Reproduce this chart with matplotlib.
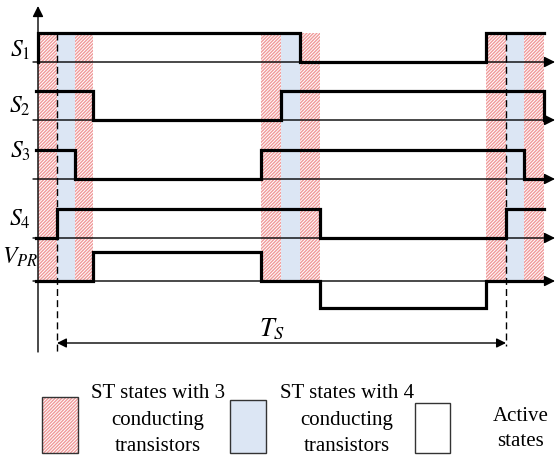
import numpy as np
import matplotlib
matplotlib.use("Agg")
import matplotlib.pyplot as plt
from matplotlib.patches import Rectangle

plt.rcParams['font.family'] = ['Liberation Serif', 'DejaVu Serif']
plt.rcParams['mathtext.fontset'] = 'stix'
plt.rcParams['hatch.linewidth'] = 1.0

# switching instants (time units, 0 = vertical axis)
t_start = -2
t_end = 506
ts_left, ts_right = 19, 468

# shoot-through intervals
red_spans = [(0, 19), (37, 55), (223, 243), (262, 282), (448, 468), (486, 506)]
blue_spans = [(19, 37), (243, 262), (468, 486)]

# gate signals: switching times and levels
names = ['$S_\\mathit{1}$', '$S_\\mathit{2}$', '$S_\\mathit{3}$', '$S_\\mathit{4}$', '$V_{PR}$']
sig_t = [
    [0, 0, 262, 448, 506],
    [t_start, 55, 243, 506, 506],
    [t_start, 37, 223, 486, 506],
    [t_start, 19, 282, 468, 506],
    [t_start, 55, 223, 282, 448, 506],
]
sig_v = [
    [0, 1, 0, 1, 1],
    [1, 0, 1, 0, 0],
    [1, 0, 1, 0, 0],
    [0, 1, 0, 1, 1],
    [0, 1, 0, -1, 0, 0],
]
baselines = [62, 120, 179, 238, 281]
label_y = [50, 106, 151, 219, 257]
amp = 29
neg_amp = 27

legend_labels = ['ST states with 3\nconducting\ntransistors',
                 'ST states with 4\nconducting\ntransistors',
                 'Active\nstates']

red = '#f09a9a'
blue = '#dce6f4'
hatch = '/' * 10

fig = plt.figure(figsize=(5.58, 4.68), dpi=100)
ax = fig.add_axes([0, 0, 1, 1])
ax.set_xlim(-38, 520)
ax.set_ylim(468, 0)
ax.axis('off')

top, bot = 33, 281
for a, b in red_spans:
    ax.add_patch(Rectangle((a, top), b - a, bot - top, facecolor='white',
                           edgecolor=red, hatch=hatch, lw=0, zorder=1))
for a, b in blue_spans:
    ax.add_patch(Rectangle((a, top), b - a, bot - top, facecolor=blue,
                           edgecolor='none', lw=0, zorder=1))

# time axes with arrows
for yb in baselines:
    ax.annotate('', xy=(517, yb), xytext=(-5, yb),
                arrowprops=dict(arrowstyle='-|>', lw=1.0, color='k',
                                mutation_scale=16, shrinkA=0, shrinkB=0), zorder=3)
ax.annotate('', xy=(0, 6), xytext=(0, 352),
            arrowprops=dict(arrowstyle='-|>', lw=1.0, color='k',
                            mutation_scale=16, shrinkA=0, shrinkB=0), zorder=3)

# signals
for t, v, yb in zip(sig_t, sig_v, baselines):
    v = np.array(v, dtype=float)
    y = yb - np.where(v < 0, neg_amp, amp) * v
    ax.plot(t, y, drawstyle='steps-post', color='k', lw=2.3,
            solid_joinstyle='miter', zorder=4)

for name, ly in zip(names, label_y):
    ax.text(-18, ly, name, fontsize=17, ha='center', va='center')

# switching period
ax.plot([ts_left, ts_left], [top, 352], color='k', lw=1.0, ls=(0, (5, 3)), zorder=3)
ax.plot([ts_right, ts_right], [top, 346], color='k', lw=1.0, ls=(0, (5, 3)), zorder=3)
ax.annotate('', xy=(ts_left, 343), xytext=(ts_right, 343),
            arrowprops=dict(arrowstyle='<|-|>', lw=1.0, color='k',
                            mutation_scale=14, shrinkA=0, shrinkB=0), zorder=3)
ax.text(234, 329, '$T_S$', fontsize=19, ha='center', va='center')

# legend
ax.add_patch(Rectangle((4, 397), 36, 56, facecolor='white', edgecolor=red,
                       hatch=hatch, lw=0))
ax.add_patch(Rectangle((4, 397), 36, 56, facecolor='none', edgecolor='#333333', lw=1.0))
ax.add_patch(Rectangle((192, 400), 36, 53, facecolor=blue, edgecolor='#333333', lw=1.0))
ax.add_patch(Rectangle((377, 403), 35, 50, facecolor='white', edgecolor='#333333', lw=1.0))

ax.text(120, 420, legend_labels[0], fontsize=15, ha='center', va='center',
        linespacing=1.55)
ax.text(309, 420, legend_labels[1], fontsize=15, ha='center', va='center',
        linespacing=1.55)
ax.text(483, 429, legend_labels[2], fontsize=15, ha='center', va='center',
        linespacing=1.45)

fig.savefig('out.png', dpi=100)
